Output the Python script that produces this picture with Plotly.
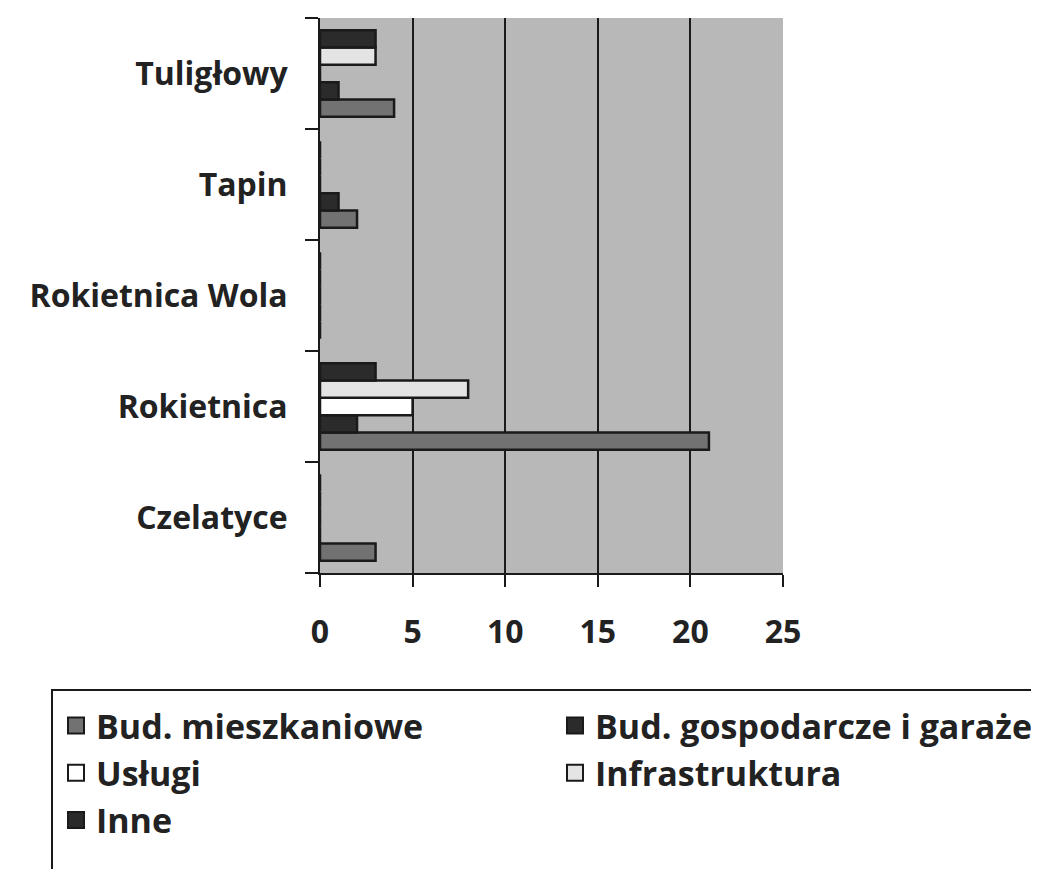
import plotly.graph_objects as go

categories = ["Czelatyce", "Rokietnica", "Rokietnica Wola", "Tapin", "Tuligłowy"]
series_names = ["Bud. mieszkaniowe", "Bud. gospodarcze i garaże", "Usługi", "Infrastruktura", "Inne"]
mieszkaniowe = [3, 21, 0, 2, 4]
gospodarcze = [0, 2, 0, 1, 1]
uslugi = [0, 5, 0, 0, 0]
infrastruktura = [0, 8, 0, 0, 3]
inne = [0, 3, 0, 0, 3]
x_ticks = [0, 5, 10, 15, 20, 25]

series_values = [mieszkaniowe, gospodarcze, uslugi, infrastruktura, inne]
colors = ["#727272", "#2b2b2b", "#ffffff", "#e4e4e4", "#2b2b2b"]
legend_column = ["legend", "legend2", "legend", "legend2", "legend"]

FONT = "'Open Sans', Lato, sans-serif"
TXT = "#222222"
LINE = "#1a1a1a"

fig = go.Figure()
for name, vals, col in zip(series_names, series_values, colors):
    fig.add_trace(go.Bar(
        y=categories, x=vals, name=name, orientation="h", showlegend=False,
        marker=dict(color=col, line=dict(color=LINE, width=2.5)),
    ))
# legend entries (no data drawn)
for name, col, lg in zip(series_names, colors, legend_column):
    fig.add_trace(go.Scatter(
        x=[None], y=[None], mode="markers", name=name, legend=lg,
        legendgroup=name, showlegend=True, hoverinfo="skip",
        marker=dict(symbol="square", size=16, color=col, line=dict(color=LINE, width=2)),
    ))

# page body has 8px default margin: figure is placed at (8, 8)
W, H = 1031, 861
L, R, T, B = 312, 256, 10, 296
PL, PB = 320, 573          # plot-area left / bottom in page pixels
pw, ph = 463, 555

def px_x(x):
    return (x - PL) / pw

def px_y(y):
    return (PB - y) / ph

fig.add_shape(type="rect", xref="paper", yref="paper",
              x0=px_x(52), x1=px_x(1060), y0=px_y(690), y1=px_y(890),
              line=dict(color=LINE, width=2), fillcolor="rgba(0,0,0,0)")

legend_style = dict(
    orientation="v", xanchor="left", yanchor="top",
    font=dict(family=FONT, size=34, color=TXT, weight="bold"),
    bgcolor="rgba(0,0,0,0)", traceorder="normal", itemclick=False,
    itemdoubleclick=False, tracegroupgap=2, borderwidth=0,
)

fig.update_layout(
    width=W, height=H,
    margin=dict(l=L, r=R, t=T, b=B, autoexpand=False),
    paper_bgcolor="white",
    plot_bgcolor="#b8b8b8",
    barmode="group",
    bargap=0.22,
    bargroupgap=0,
    font=dict(family=FONT, color=TXT, size=32),
    showlegend=True,
    legend=dict(x=px_x(56), y=px_y(697), **legend_style),
    legend2=dict(x=px_x(555), y=px_y(697), **legend_style),
    xaxis=dict(
        range=[0, 25], tickvals=x_ticks, ticktext=[str(v) for v in x_ticks],
        showgrid=True, gridcolor=LINE, gridwidth=2,
        showline=True, linecolor=LINE, linewidth=2,
        ticks="outside", ticklen=12, tickwidth=2, tickcolor=LINE,
        ticklabelstandoff=18, zeroline=False, fixedrange=True,
        tickfont=dict(family=FONT, size=32, color=TXT, weight="bold"),
    ),
    yaxis=dict(
        categoryorder="array", categoryarray=categories,
        showline=True, linecolor=LINE, linewidth=2,
        ticks="outside", ticklen=13, tickwidth=2, tickcolor=LINE,
        tickson="boundaries", showgrid=False, ticklabelstandoff=24,
        fixedrange=True,
        tickfont=dict(family=FONT, size=32, color=TXT, weight="bold"),
    ),
)

fig.write_html("out.html")
